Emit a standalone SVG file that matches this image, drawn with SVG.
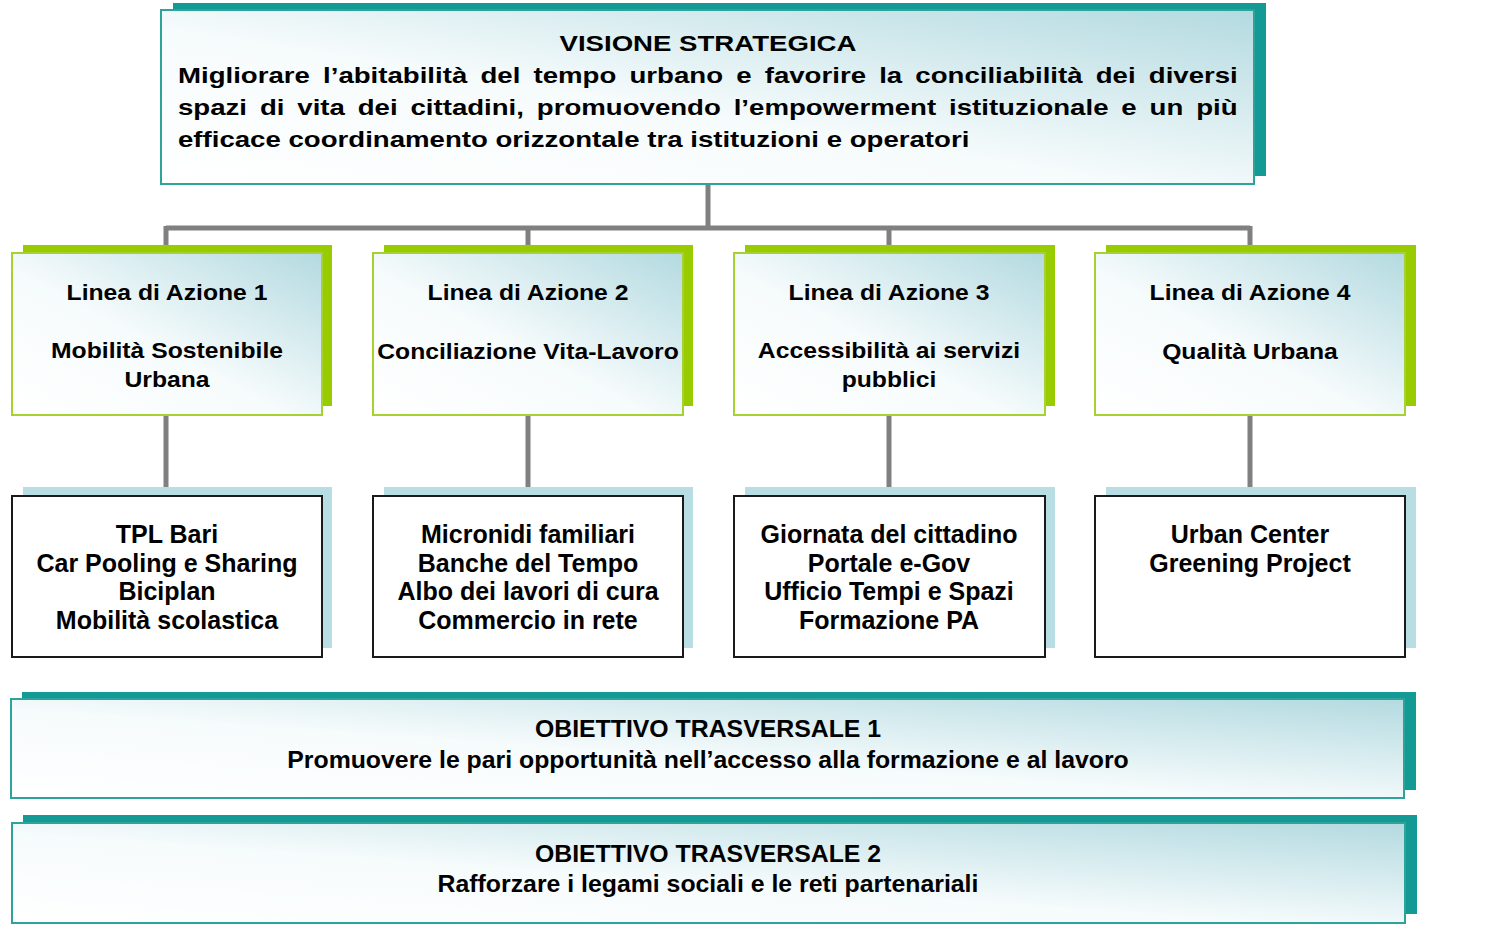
<svg xmlns="http://www.w3.org/2000/svg" width="1496" height="934" viewBox="0 0 1496 934">
<defs>
<linearGradient id="gr" x1="0" y1="1" x2="1" y2="0">
<stop offset="0" stop-color="#ffffff"/>
<stop offset="0.45" stop-color="#f6fbfc"/>
<stop offset="1" stop-color="#b3dae0"/>
</linearGradient>
<style>
.teal{fill:#139a94}
.tealbox{fill:url(#gr);stroke:#2ea39c;stroke-width:2}
.green{fill:#99cc00}
.greenbox{fill:url(#gr);stroke:#a6d130;stroke-width:2}
.blue{fill:#b8dde3}
.whitebox{fill:#ffffff;stroke:#1a1a1a;stroke-width:2}
.conn{fill:none;stroke:#808080;stroke-width:5}
text{font-family:"Liberation Sans",Arial,sans-serif;font-weight:bold;fill:#000000}
.t22{font-size:22px}
.t23{font-size:23px;text-anchor:middle}
.t25{font-size:25px;text-anchor:middle}
</style>
</defs>
<rect width="1496" height="934" fill="#ffffff"/>
<g id="connectors">
<path class="conn" d="M708 184 V228 M166 228 H1250 M166 226 V246 M528 226 V246 M889 226 V246 M1250 226 V246"/>
<path class="conn" d="M166 415 V488 M528 415 V488 M889 415 V488 M1250 415 V488"/>
</g>
<g id="vision">
<rect class="teal" x="173" y="3" width="1093" height="173"/>
<rect class="tealbox" x="161" y="10" width="1093" height="174"/>
<g transform="translate(178,0) scale(1.255,1)">
<text class="t22" x="422.3" y="51" text-anchor="middle">VISIONE STRATEGICA</text>
<text class="t22" x="0" y="83" word-spacing="4.4">Migliorare l’abitabilità del tempo urbano e favorire la conciliabilità dei diversi</text>
<text class="t22" x="0" y="115" word-spacing="4.15">spazi di vita dei cittadini, promuovendo l’empowerment istituzionale e un più</text>
<text class="t22" x="0" y="147">efficace coordinamento orizzontale tra istituzioni e operatori</text>
</g>
</g>
<g id="linea1">
<rect class="green" x="23" y="245" width="309" height="161"/>
<rect class="greenbox" x="12" y="253" width="310" height="162"/>
<g transform="translate(167,0) scale(1.075,1)">
<text class="t23" x="0" y="300">Linea di Azione 1</text>
<text class="t23" x="0" y="358">Mobilità Sostenibile</text>
<text class="t23" x="0" y="387">Urbana</text>
</g>
</g>
<g id="linea2">
<rect class="green" x="384" y="245" width="309" height="161"/>
<rect class="greenbox" x="373" y="253" width="310" height="162"/>
<g transform="translate(528,0) scale(1.075,1)">
<text class="t23" x="0" y="300">Linea di Azione 2</text>
<text class="t23" x="0" y="359">Conciliazione Vita-Lavoro</text>
</g>
</g>
<g id="linea3">
<rect class="green" x="745" y="245" width="310" height="161"/>
<rect class="greenbox" x="734" y="253" width="311" height="162"/>
<g transform="translate(889,0) scale(1.075,1)">
<text class="t23" x="0" y="300">Linea di Azione 3</text>
<text class="t23" x="0" y="358">Accessibilità ai servizi</text>
<text class="t23" x="0" y="387">pubblici</text>
</g>
</g>
<g id="linea4">
<rect class="green" x="1106" y="245" width="310" height="161"/>
<rect class="greenbox" x="1095" y="253" width="310" height="162"/>
<g transform="translate(1250,0) scale(1.075,1)">
<text class="t23" x="0" y="300">Linea di Azione 4</text>
<text class="t23" x="0" y="359">Qualità Urbana</text>
</g>
</g>
<g id="azioni1">
<rect class="blue" x="23" y="487" width="309" height="161"/>
<rect class="whitebox" x="12" y="496" width="310" height="161"/>
<text class="t25" x="167" y="543">TPL Bari</text>
<text class="t25" x="167" y="572">Car Pooling e Sharing</text>
<text class="t25" x="167" y="600">Biciplan</text>
<text class="t25" x="167" y="629">Mobilità scolastica</text>
</g>
<g id="azioni2">
<rect class="blue" x="384" y="487" width="309" height="161"/>
<rect class="whitebox" x="373" y="496" width="310" height="161"/>
<text class="t25" x="528" y="543">Micronidi familiari</text>
<text class="t25" x="528" y="572">Banche del Tempo</text>
<text class="t25" x="528" y="600">Albo dei lavori di cura</text>
<text class="t25" x="528" y="629">Commercio in rete</text>
</g>
<g id="azioni3">
<rect class="blue" x="745" y="487" width="310" height="161"/>
<rect class="whitebox" x="734" y="496" width="311" height="161"/>
<text class="t25" x="889" y="543">Giornata del cittadino</text>
<text class="t25" x="889" y="572">Portale e-Gov</text>
<text class="t25" x="889" y="600">Ufficio Tempi e Spazi</text>
<text class="t25" x="889" y="629">Formazione PA</text>
</g>
<g id="azioni4">
<rect class="blue" x="1106" y="487" width="310" height="161"/>
<rect class="whitebox" x="1095" y="496" width="310" height="161"/>
<text class="t25" x="1250" y="543">Urban Center</text>
<text class="t25" x="1250" y="572">Greening Project</text>
</g>
<g id="obiettivo1">
<rect class="teal" x="22" y="692" width="1394" height="98"/>
<rect class="tealbox" x="11" y="699" width="1393" height="99"/>
<g transform="translate(708,0) scale(1.08,1)">
<text class="t23" x="0" y="737">OBIETTIVO TRASVERSALE 1</text>
<text class="t23" x="0" y="768">Promuovere le pari opportunità nell’accesso alla formazione e al lavoro</text>
</g>
</g>
<g id="obiettivo2">
<rect class="teal" x="23" y="815" width="1394" height="99"/>
<rect class="tealbox" x="12" y="823" width="1393" height="100"/>
<g transform="translate(708,0) scale(1.08,1)">
<text class="t23" x="0" y="862">OBIETTIVO TRASVERSALE 2</text>
<text class="t23" x="0" y="892">Rafforzare i legami sociali e le reti partenariali</text>
</g>
</g>
</svg>
